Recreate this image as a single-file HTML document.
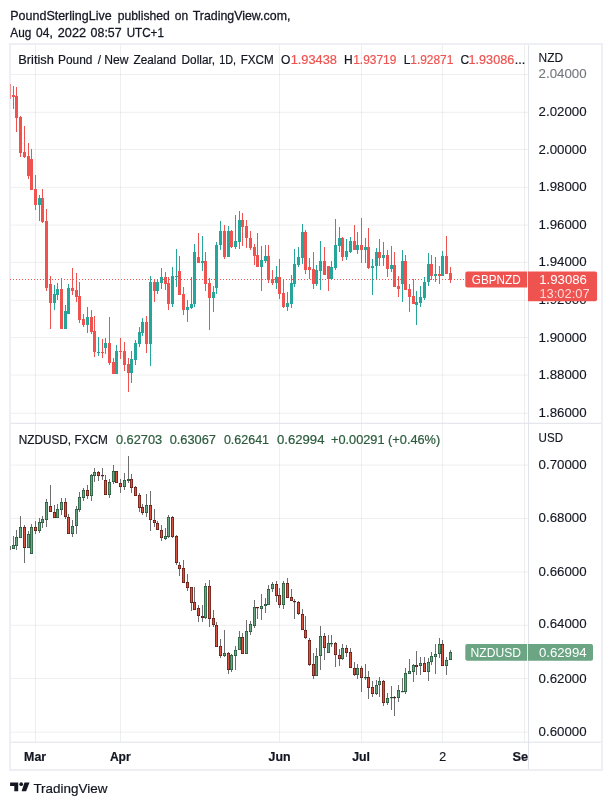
<!DOCTYPE html><html><head><meta charset="utf-8"><title>chart</title><style>
html,body{margin:0;padding:0;background:#fff;}svg{display:block;will-change:transform}text{font-family:"Liberation Sans",sans-serif;}.k text{stroke:#131722;stroke-width:0.28px;}.k2 text{stroke-width:0.2px;}.k3 text{stroke-width:0.12px;}
</style></head><body>
<svg width="612" height="805" viewBox="0 0 612 805">
<rect width="612" height="805" fill="#fff"/>
<g class="k" font-size="12.6" fill="#131722">
<text x="10.3" y="19.7" textLength="101.3" lengthAdjust="spacingAndGlyphs">PoundSterlingLive</text>
<text x="117.8" y="19.7" textLength="52.1" lengthAdjust="spacingAndGlyphs">published</text>
<text x="174.8" y="19.7" textLength="13.3" lengthAdjust="spacingAndGlyphs">on</text>
<text x="192.7" y="19.7" textLength="97.7" lengthAdjust="spacingAndGlyphs">TradingView.com,</text>
<text x="10.3" y="36.8" textLength="21.0" lengthAdjust="spacingAndGlyphs">Aug</text>
<text x="36.1" y="36.8" textLength="16.7" lengthAdjust="spacingAndGlyphs">04,</text>
<text x="57.8" y="36.8" textLength="28.3" lengthAdjust="spacingAndGlyphs">2022</text>
<text x="90.6" y="36.8" textLength="31.1" lengthAdjust="spacingAndGlyphs">08:57</text>
<text x="126.7" y="36.8" textLength="37.2" lengthAdjust="spacingAndGlyphs">UTC+1</text>
</g>
<g stroke="#2a2e39" stroke-opacity="0.08" stroke-width="1" fill="none">
<line x1="10" x2="528.6" y1="74.5" y2="74.5"/>
<line x1="10" x2="528.6" y1="112.3" y2="112.3"/>
<line x1="10" x2="528.6" y1="149.5" y2="149.5"/>
<line x1="10" x2="528.6" y1="187.4" y2="187.4"/>
<line x1="10" x2="528.6" y1="225.1" y2="225.1"/>
<line x1="10" x2="528.6" y1="262.4" y2="262.4"/>
<line x1="10" x2="528.6" y1="300.4" y2="300.4"/>
<line x1="10" x2="528.6" y1="337.5" y2="337.5"/>
<line x1="10" x2="528.6" y1="375.1" y2="375.1"/>
<line x1="10" x2="528.6" y1="413.3" y2="413.3"/>
<line x1="10" x2="528.6" y1="465.1" y2="465.1"/>
<line x1="10" x2="528.6" y1="518.5" y2="518.5"/>
<line x1="10" x2="528.6" y1="572.1" y2="572.1"/>
<line x1="10" x2="528.6" y1="625.3" y2="625.3"/>
<line x1="10" x2="528.6" y1="678.5" y2="678.5"/>
<line x1="10" x2="528.6" y1="732.2" y2="732.2"/>
<line x1="35.5" x2="35.5" y1="44" y2="742.2"/>
<line x1="120.5" x2="120.5" y1="44" y2="742.2"/>
<line x1="279.5" x2="279.5" y1="44" y2="742.2"/>
<line x1="361.5" x2="361.5" y1="44" y2="742.2"/>
<line x1="442.5" x2="442.5" y1="44" y2="742.2"/>
<line x1="524.5" x2="524.5" y1="44" y2="742.2"/>
</g>
<path fill="#edeff5" fill-rule="evenodd" d="M9 43H603V771H9Z M11 45V769H601V45Z"/>
<g stroke="#dfe2e9" stroke-width="1" fill="none">
<line x1="528.6" x2="528.6" y1="45" y2="769"/>
<line x1="11" x2="601" y1="423.3" y2="423.3"/>
<line x1="11" x2="601" y1="742.2" y2="742.2"/>
</g>
<clipPath id="c1"><rect x="10" y="44" width="518.6" height="379.3"/></clipPath>
<clipPath id="c2"><rect x="10" y="423.3" width="518.6" height="318.90000000000003"/></clipPath>
<g clip-path="url(#c1)">
<line x1="10" x2="528.6" y1="279.5" y2="279.5" stroke="#ef5350" stroke-width="1" stroke-dasharray="1 2"/>
<rect x="10.15" y="84" width="0.6" height="15.0" fill="#ef5350"/>
<rect x="13.00" y="86" width="1" height="23.0" fill="#ef5350"/>
<rect x="12.00" y="95" width="3" height="2.0" fill="#ef5350"/>
<rect x="16.00" y="87" width="1" height="45.0" fill="#ef5350"/>
<rect x="15.00" y="96" width="3" height="22.0" fill="#ef5350"/>
<rect x="20.00" y="116" width="1" height="41.0" fill="#ef5350"/>
<rect x="19.00" y="117" width="3" height="36.0" fill="#ef5350"/>
<rect x="24.00" y="126" width="1" height="32.0" fill="#ef5350"/>
<rect x="23.00" y="152" width="3" height="5.0" fill="#ef5350"/>
<rect x="28.00" y="143" width="1" height="36.0" fill="#ef5350"/>
<rect x="27.00" y="156" width="3" height="20.0" fill="#ef5350"/>
<rect x="31.00" y="149" width="1" height="41.0" fill="#ef5350"/>
<rect x="30.00" y="159" width="3" height="31.0" fill="#ef5350"/>
<rect x="35.00" y="175" width="1" height="35.0" fill="#ef5350"/>
<rect x="34.00" y="189" width="3" height="16.0" fill="#ef5350"/>
<rect x="39.00" y="195" width="1" height="26.0" fill="#26a69a"/>
<rect x="38.00" y="198" width="3" height="7.0" fill="#26a69a"/>
<rect x="42.00" y="189" width="1" height="34.0" fill="#ef5350"/>
<rect x="41.00" y="198" width="3" height="24.0" fill="#ef5350"/>
<rect x="46.00" y="209" width="1" height="82.0" fill="#ef5350"/>
<rect x="45.00" y="221" width="3" height="67.0" fill="#ef5350"/>
<rect x="50.00" y="276" width="1" height="53.0" fill="#ef5350"/>
<rect x="49.00" y="284" width="3" height="19.0" fill="#ef5350"/>
<rect x="54.00" y="285" width="1" height="25.0" fill="#26a69a"/>
<rect x="53.00" y="294" width="3" height="9.0" fill="#26a69a"/>
<rect x="57.00" y="283" width="1" height="17.0" fill="#26a69a"/>
<rect x="56.00" y="289" width="3" height="6.0" fill="#26a69a"/>
<rect x="61.00" y="278" width="1" height="51.0" fill="#ef5350"/>
<rect x="60.00" y="289" width="3" height="40.0" fill="#ef5350"/>
<rect x="65.00" y="305" width="1" height="24.0" fill="#26a69a"/>
<rect x="64.00" y="311" width="3" height="18.0" fill="#26a69a"/>
<rect x="68.00" y="284" width="1" height="30.0" fill="#26a69a"/>
<rect x="67.00" y="288" width="3" height="26.0" fill="#26a69a"/>
<rect x="72.00" y="268" width="1" height="27.0" fill="#ef5350"/>
<rect x="71.00" y="288" width="3" height="3.0" fill="#ef5350"/>
<rect x="76.00" y="273" width="1" height="29.0" fill="#ef5350"/>
<rect x="75.00" y="290" width="3" height="7.0" fill="#ef5350"/>
<rect x="79.00" y="282" width="1" height="41.0" fill="#ef5350"/>
<rect x="78.00" y="296" width="3" height="24.0" fill="#ef5350"/>
<rect x="83.00" y="314" width="1" height="13.0" fill="#ef5350"/>
<rect x="82.00" y="319" width="3" height="6.0" fill="#ef5350"/>
<rect x="87.00" y="307" width="1" height="26.0" fill="#26a69a"/>
<rect x="86.00" y="317" width="3" height="8.0" fill="#26a69a"/>
<rect x="91.00" y="310" width="1" height="24.0" fill="#ef5350"/>
<rect x="90.00" y="317" width="3" height="15.0" fill="#ef5350"/>
<rect x="94.00" y="316" width="1" height="41.0" fill="#ef5350"/>
<rect x="93.00" y="331" width="3" height="21.0" fill="#ef5350"/>
<rect x="98.00" y="337" width="1" height="19.0" fill="#26a69a"/>
<rect x="97.00" y="352" width="3" height="1.0" fill="#26a69a"/>
<rect x="102.00" y="339" width="1" height="19.0" fill="#ef5350"/>
<rect x="101.00" y="352" width="3" height="1.0" fill="#ef5350"/>
<rect x="105.00" y="338" width="1" height="16.0" fill="#26a69a"/>
<rect x="104.00" y="343" width="3" height="5.0" fill="#26a69a"/>
<rect x="109.00" y="317" width="1" height="48.0" fill="#ef5350"/>
<rect x="108.00" y="343" width="3" height="20.0" fill="#ef5350"/>
<rect x="113.00" y="358" width="1" height="16.0" fill="#ef5350"/>
<rect x="112.00" y="362" width="3" height="12.0" fill="#ef5350"/>
<rect x="116.00" y="345" width="1" height="29.0" fill="#26a69a"/>
<rect x="115.00" y="351" width="3" height="23.0" fill="#26a69a"/>
<rect x="120.00" y="338" width="1" height="21.0" fill="#ef5350"/>
<rect x="119.00" y="351" width="3" height="1.0" fill="#ef5350"/>
<rect x="124.00" y="342" width="1" height="29.0" fill="#ef5350"/>
<rect x="123.00" y="351" width="3" height="14.0" fill="#ef5350"/>
<rect x="128.00" y="358" width="1" height="34.0" fill="#ef5350"/>
<rect x="127.00" y="364" width="3" height="9.0" fill="#ef5350"/>
<rect x="131.00" y="351" width="1" height="32.0" fill="#26a69a"/>
<rect x="130.00" y="359" width="3" height="14.0" fill="#26a69a"/>
<rect x="135.00" y="340" width="1" height="25.0" fill="#26a69a"/>
<rect x="134.00" y="343" width="3" height="17.0" fill="#26a69a"/>
<rect x="139.00" y="327" width="1" height="20.0" fill="#26a69a"/>
<rect x="138.00" y="332" width="3" height="12.0" fill="#26a69a"/>
<rect x="142.00" y="318" width="1" height="18.0" fill="#26a69a"/>
<rect x="141.00" y="322" width="3" height="11.0" fill="#26a69a"/>
<rect x="146.00" y="316" width="1" height="37.0" fill="#ef5350"/>
<rect x="145.00" y="322" width="3" height="22.0" fill="#ef5350"/>
<rect x="150.00" y="276" width="1" height="90.0" fill="#26a69a"/>
<rect x="149.00" y="282" width="3" height="62.0" fill="#26a69a"/>
<rect x="154.00" y="279" width="1" height="23.0" fill="#ef5350"/>
<rect x="153.00" y="282" width="3" height="9.0" fill="#ef5350"/>
<rect x="157.00" y="279" width="1" height="15.0" fill="#26a69a"/>
<rect x="156.00" y="282" width="3" height="9.0" fill="#26a69a"/>
<rect x="161.00" y="268" width="1" height="21.0" fill="#26a69a"/>
<rect x="160.00" y="277" width="3" height="6.0" fill="#26a69a"/>
<rect x="165.00" y="272" width="1" height="18.0" fill="#ef5350"/>
<rect x="164.00" y="277" width="3" height="7.0" fill="#ef5350"/>
<rect x="168.00" y="277" width="1" height="33.0" fill="#ef5350"/>
<rect x="167.00" y="283" width="3" height="21.0" fill="#ef5350"/>
<rect x="172.00" y="267" width="1" height="40.0" fill="#26a69a"/>
<rect x="171.00" y="276" width="3" height="28.0" fill="#26a69a"/>
<rect x="176.00" y="249" width="1" height="38.0" fill="#26a69a"/>
<rect x="175.00" y="276" width="3" height="1.0" fill="#26a69a"/>
<rect x="179.00" y="256" width="1" height="39.0" fill="#ef5350"/>
<rect x="178.00" y="271" width="3" height="24.0" fill="#ef5350"/>
<rect x="183.00" y="287" width="1" height="28.0" fill="#ef5350"/>
<rect x="182.00" y="294" width="3" height="16.0" fill="#ef5350"/>
<rect x="187.00" y="300" width="1" height="22.0" fill="#26a69a"/>
<rect x="186.00" y="307" width="3" height="3.0" fill="#26a69a"/>
<rect x="191.00" y="277" width="1" height="32.0" fill="#26a69a"/>
<rect x="190.00" y="304" width="3" height="4.0" fill="#26a69a"/>
<rect x="194.00" y="244" width="1" height="63.0" fill="#26a69a"/>
<rect x="193.00" y="252" width="3" height="52.0" fill="#26a69a"/>
<rect x="198.00" y="233" width="1" height="30.0" fill="#ef5350"/>
<rect x="197.00" y="257" width="3" height="6.0" fill="#ef5350"/>
<rect x="202.00" y="236" width="1" height="35.0" fill="#26a69a"/>
<rect x="201.00" y="261" width="3" height="2.0" fill="#26a69a"/>
<rect x="205.00" y="252" width="1" height="39.0" fill="#ef5350"/>
<rect x="204.00" y="261" width="3" height="23.0" fill="#ef5350"/>
<rect x="209.00" y="278" width="1" height="52.0" fill="#ef5350"/>
<rect x="208.00" y="283" width="3" height="15.0" fill="#ef5350"/>
<rect x="213.00" y="286" width="1" height="26.0" fill="#26a69a"/>
<rect x="212.00" y="292" width="3" height="6.0" fill="#26a69a"/>
<rect x="216.00" y="242" width="1" height="52.0" fill="#26a69a"/>
<rect x="215.00" y="245" width="3" height="43.0" fill="#26a69a"/>
<rect x="220.00" y="221" width="1" height="29.0" fill="#26a69a"/>
<rect x="219.00" y="231" width="3" height="14.0" fill="#26a69a"/>
<rect x="224.00" y="225" width="1" height="34.0" fill="#ef5350"/>
<rect x="223.00" y="231" width="3" height="26.0" fill="#ef5350"/>
<rect x="228.00" y="226" width="1" height="31.0" fill="#26a69a"/>
<rect x="227.00" y="231" width="3" height="26.0" fill="#26a69a"/>
<rect x="231.00" y="230" width="1" height="18.0" fill="#ef5350"/>
<rect x="230.00" y="231" width="3" height="16.0" fill="#ef5350"/>
<rect x="235.00" y="215" width="1" height="34.0" fill="#26a69a"/>
<rect x="234.00" y="241" width="3" height="6.0" fill="#26a69a"/>
<rect x="239.00" y="211" width="1" height="38.0" fill="#26a69a"/>
<rect x="238.00" y="220" width="3" height="22.0" fill="#26a69a"/>
<rect x="242.00" y="213" width="1" height="33.0" fill="#ef5350"/>
<rect x="241.00" y="220" width="3" height="7.0" fill="#ef5350"/>
<rect x="246.00" y="220" width="1" height="28.0" fill="#ef5350"/>
<rect x="245.00" y="226" width="3" height="12.0" fill="#ef5350"/>
<rect x="250.00" y="231" width="1" height="19.0" fill="#ef5350"/>
<rect x="249.00" y="238" width="3" height="10.0" fill="#ef5350"/>
<rect x="254.00" y="244" width="1" height="21.0" fill="#ef5350"/>
<rect x="253.00" y="247" width="3" height="9.0" fill="#ef5350"/>
<rect x="257.00" y="233" width="1" height="34.0" fill="#ef5350"/>
<rect x="256.00" y="255" width="3" height="12.0" fill="#ef5350"/>
<rect x="261.00" y="246" width="1" height="45.0" fill="#26a69a"/>
<rect x="260.00" y="260" width="3" height="7.0" fill="#26a69a"/>
<rect x="265.00" y="245" width="1" height="18.0" fill="#26a69a"/>
<rect x="264.00" y="256" width="3" height="5.0" fill="#26a69a"/>
<rect x="268.00" y="245" width="1" height="38.0" fill="#ef5350"/>
<rect x="267.00" y="256" width="3" height="24.0" fill="#ef5350"/>
<rect x="272.00" y="270" width="1" height="15.0" fill="#ef5350"/>
<rect x="271.00" y="279" width="3" height="4.0" fill="#ef5350"/>
<rect x="276.00" y="266" width="1" height="23.0" fill="#26a69a"/>
<rect x="275.00" y="277" width="3" height="6.0" fill="#26a69a"/>
<rect x="279.00" y="259" width="1" height="40.0" fill="#ef5350"/>
<rect x="278.00" y="277" width="3" height="17.0" fill="#ef5350"/>
<rect x="283.00" y="279" width="1" height="29.0" fill="#ef5350"/>
<rect x="282.00" y="293" width="3" height="14.0" fill="#ef5350"/>
<rect x="287.00" y="292" width="1" height="19.0" fill="#26a69a"/>
<rect x="286.00" y="303" width="3" height="4.0" fill="#26a69a"/>
<rect x="291.00" y="275" width="1" height="33.0" fill="#26a69a"/>
<rect x="290.00" y="283" width="3" height="21.0" fill="#26a69a"/>
<rect x="294.00" y="249" width="1" height="38.0" fill="#26a69a"/>
<rect x="293.00" y="264" width="3" height="20.0" fill="#26a69a"/>
<rect x="298.00" y="247" width="1" height="20.0" fill="#26a69a"/>
<rect x="297.00" y="257" width="3" height="8.0" fill="#26a69a"/>
<rect x="302.00" y="224" width="1" height="40.0" fill="#26a69a"/>
<rect x="301.00" y="232" width="3" height="26.0" fill="#26a69a"/>
<rect x="305.00" y="230" width="1" height="44.0" fill="#ef5350"/>
<rect x="304.00" y="232" width="3" height="38.0" fill="#ef5350"/>
<rect x="309.00" y="258" width="1" height="21.0" fill="#ef5350"/>
<rect x="308.00" y="267" width="3" height="3.0" fill="#ef5350"/>
<rect x="313.00" y="252" width="1" height="37.0" fill="#ef5350"/>
<rect x="312.00" y="269" width="3" height="15.0" fill="#ef5350"/>
<rect x="316.00" y="265" width="1" height="21.0" fill="#26a69a"/>
<rect x="315.00" y="270" width="3" height="14.0" fill="#26a69a"/>
<rect x="320.00" y="241" width="1" height="49.0" fill="#26a69a"/>
<rect x="319.00" y="261" width="3" height="10.0" fill="#26a69a"/>
<rect x="324.00" y="247" width="1" height="28.0" fill="#ef5350"/>
<rect x="323.00" y="261" width="3" height="14.0" fill="#ef5350"/>
<rect x="328.00" y="266" width="1" height="25.0" fill="#ef5350"/>
<rect x="327.00" y="266" width="3" height="13.0" fill="#ef5350"/>
<rect x="331.00" y="261" width="1" height="18.0" fill="#26a69a"/>
<rect x="330.00" y="267" width="3" height="12.0" fill="#26a69a"/>
<rect x="335.00" y="219" width="1" height="51.0" fill="#26a69a"/>
<rect x="334.00" y="245" width="3" height="23.0" fill="#26a69a"/>
<rect x="339.00" y="227" width="1" height="25.0" fill="#26a69a"/>
<rect x="338.00" y="238" width="3" height="8.0" fill="#26a69a"/>
<rect x="342.00" y="237" width="1" height="24.0" fill="#ef5350"/>
<rect x="341.00" y="238" width="3" height="19.0" fill="#ef5350"/>
<rect x="346.00" y="239" width="1" height="21.0" fill="#26a69a"/>
<rect x="345.00" y="251" width="3" height="6.0" fill="#26a69a"/>
<rect x="350.00" y="237" width="1" height="16.0" fill="#26a69a"/>
<rect x="349.00" y="241" width="3" height="11.0" fill="#26a69a"/>
<rect x="354.00" y="225" width="1" height="25.0" fill="#ef5350"/>
<rect x="353.00" y="241" width="3" height="9.0" fill="#ef5350"/>
<rect x="357.00" y="232" width="1" height="22.0" fill="#26a69a"/>
<rect x="356.00" y="245" width="3" height="5.0" fill="#26a69a"/>
<rect x="361.00" y="218" width="1" height="45.0" fill="#ef5350"/>
<rect x="360.00" y="245" width="3" height="5.0" fill="#ef5350"/>
<rect x="365.00" y="238" width="1" height="25.0" fill="#26a69a"/>
<rect x="364.00" y="247" width="3" height="3.0" fill="#26a69a"/>
<rect x="368.00" y="228" width="1" height="41.0" fill="#ef5350"/>
<rect x="367.00" y="247" width="3" height="21.0" fill="#ef5350"/>
<rect x="372.00" y="259" width="1" height="36.0" fill="#26a69a"/>
<rect x="371.00" y="266" width="3" height="2.0" fill="#26a69a"/>
<rect x="376.00" y="248" width="1" height="31.0" fill="#26a69a"/>
<rect x="375.00" y="252" width="3" height="14.0" fill="#26a69a"/>
<rect x="379.00" y="239" width="1" height="27.0" fill="#ef5350"/>
<rect x="378.00" y="252" width="3" height="6.0" fill="#ef5350"/>
<rect x="383.00" y="242" width="1" height="24.0" fill="#26a69a"/>
<rect x="382.00" y="255" width="3" height="3.0" fill="#26a69a"/>
<rect x="387.00" y="250" width="1" height="27.0" fill="#ef5350"/>
<rect x="386.00" y="255" width="3" height="14.0" fill="#ef5350"/>
<rect x="391.00" y="246" width="1" height="26.0" fill="#26a69a"/>
<rect x="390.00" y="265" width="3" height="4.0" fill="#26a69a"/>
<rect x="394.00" y="252" width="1" height="35.0" fill="#ef5350"/>
<rect x="393.00" y="265" width="3" height="22.0" fill="#ef5350"/>
<rect x="398.00" y="276" width="1" height="21.0" fill="#ef5350"/>
<rect x="397.00" y="286" width="3" height="3.0" fill="#ef5350"/>
<rect x="402.00" y="250" width="1" height="52.0" fill="#26a69a"/>
<rect x="401.00" y="261" width="3" height="23.0" fill="#26a69a"/>
<rect x="405.00" y="255" width="1" height="35.0" fill="#ef5350"/>
<rect x="404.00" y="261" width="3" height="29.0" fill="#ef5350"/>
<rect x="409.00" y="284" width="1" height="28.0" fill="#ef5350"/>
<rect x="408.00" y="289" width="3" height="8.0" fill="#ef5350"/>
<rect x="413.00" y="279" width="1" height="25.0" fill="#ef5350"/>
<rect x="412.00" y="296" width="3" height="8.0" fill="#ef5350"/>
<rect x="416.00" y="291" width="1" height="34.0" fill="#26a69a"/>
<rect x="415.00" y="302" width="3" height="3.0" fill="#26a69a"/>
<rect x="420.00" y="286" width="1" height="21.0" fill="#26a69a"/>
<rect x="419.00" y="297" width="3" height="6.0" fill="#26a69a"/>
<rect x="424.00" y="277" width="1" height="23.0" fill="#26a69a"/>
<rect x="423.00" y="282" width="3" height="16.0" fill="#26a69a"/>
<rect x="428.00" y="253" width="1" height="33.0" fill="#26a69a"/>
<rect x="427.00" y="264" width="3" height="18.0" fill="#26a69a"/>
<rect x="431.00" y="255" width="1" height="25.0" fill="#ef5350"/>
<rect x="430.00" y="264" width="3" height="12.0" fill="#ef5350"/>
<rect x="435.00" y="257" width="1" height="25.0" fill="#26a69a"/>
<rect x="434.00" y="274" width="3" height="2.0" fill="#26a69a"/>
<rect x="439.00" y="266" width="1" height="18.0" fill="#ef5350"/>
<rect x="438.00" y="274" width="3" height="2.0" fill="#ef5350"/>
<rect x="442.00" y="251" width="1" height="25.0" fill="#26a69a"/>
<rect x="441.00" y="256" width="3" height="20.0" fill="#26a69a"/>
<rect x="446.00" y="236" width="1" height="38.0" fill="#ef5350"/>
<rect x="445.00" y="256" width="3" height="18.0" fill="#ef5350"/>
<rect x="450.00" y="267" width="1" height="16.0" fill="#ef5350"/>
<rect x="449.00" y="273" width="3" height="7.0" fill="#ef5350"/>
</g>
<g clip-path="url(#c2)">
<rect x="10.00" y="546" width="1" height="4.0" fill="#6e6e70"/>
<rect x="13.00" y="536" width="1" height="13.0" fill="#6e6e70"/>
<rect x="12.00" y="545" width="3" height="4.0" fill="#225437"/>
<rect x="12.70" y="545.70" width="1.6" height="2.6" fill="#6ba583"/>
<rect x="16.00" y="530" width="1" height="20.0" fill="#6e6e70"/>
<rect x="15.00" y="537" width="3" height="9.0" fill="#225437"/>
<rect x="15.70" y="537.70" width="1.6" height="7.6" fill="#6ba583"/>
<rect x="20.00" y="516" width="1" height="22.0" fill="#6e6e70"/>
<rect x="19.00" y="527" width="3" height="11.0" fill="#225437"/>
<rect x="19.70" y="527.70" width="1.6" height="9.6" fill="#6ba583"/>
<rect x="24.00" y="525" width="1" height="38.0" fill="#6e6e70"/>
<rect x="23.00" y="527" width="3" height="21.0" fill="#5b1a13"/>
<rect x="23.70" y="527.70" width="1.6" height="19.6" fill="#d75442"/>
<rect x="28.00" y="531" width="1" height="17.0" fill="#6e6e70"/>
<rect x="27.00" y="534" width="3" height="14.0" fill="#225437"/>
<rect x="27.70" y="534.70" width="1.6" height="12.6" fill="#6ba583"/>
<rect x="31.00" y="524" width="1" height="30.0" fill="#6e6e70"/>
<rect x="30.00" y="527" width="3" height="27.0" fill="#225437"/>
<rect x="30.70" y="527.70" width="1.6" height="25.6" fill="#6ba583"/>
<rect x="35.00" y="521" width="1" height="13.0" fill="#6e6e70"/>
<rect x="34.00" y="527" width="3" height="4.0" fill="#5b1a13"/>
<rect x="34.70" y="527.70" width="1.6" height="2.6" fill="#d75442"/>
<rect x="39.00" y="518" width="1" height="15.0" fill="#6e6e70"/>
<rect x="38.00" y="522" width="3" height="9.0" fill="#225437"/>
<rect x="38.70" y="522.70" width="1.6" height="7.6" fill="#6ba583"/>
<rect x="42.00" y="516" width="1" height="12.0" fill="#6e6e70"/>
<rect x="41.00" y="519" width="3" height="4.0" fill="#225437"/>
<rect x="41.70" y="519.70" width="1.6" height="2.6" fill="#6ba583"/>
<rect x="46.00" y="499" width="1" height="28.0" fill="#6e6e70"/>
<rect x="45.00" y="502" width="3" height="18.0" fill="#225437"/>
<rect x="45.70" y="502.70" width="1.6" height="16.6" fill="#6ba583"/>
<rect x="50.00" y="485" width="1" height="27.0" fill="#6e6e70"/>
<rect x="49.00" y="506" width="3" height="6.0" fill="#5b1a13"/>
<rect x="49.70" y="506.70" width="1.6" height="4.6" fill="#d75442"/>
<rect x="54.00" y="505" width="1" height="13.0" fill="#6e6e70"/>
<rect x="53.00" y="512" width="3" height="6.0" fill="#5b1a13"/>
<rect x="53.70" y="512.70" width="1.6" height="4.6" fill="#d75442"/>
<rect x="57.00" y="504" width="1" height="14.0" fill="#6e6e70"/>
<rect x="56.00" y="509" width="3" height="9.0" fill="#225437"/>
<rect x="56.70" y="509.70" width="1.6" height="7.6" fill="#6ba583"/>
<rect x="61.00" y="498" width="1" height="17.0" fill="#6e6e70"/>
<rect x="60.00" y="502" width="3" height="8.0" fill="#225437"/>
<rect x="60.70" y="502.70" width="1.6" height="6.6" fill="#6ba583"/>
<rect x="65.00" y="498" width="1" height="21.0" fill="#6e6e70"/>
<rect x="64.00" y="502" width="3" height="15.0" fill="#5b1a13"/>
<rect x="64.70" y="502.70" width="1.6" height="13.6" fill="#d75442"/>
<rect x="68.00" y="514" width="1" height="20.0" fill="#6e6e70"/>
<rect x="67.00" y="517" width="3" height="17.0" fill="#5b1a13"/>
<rect x="67.70" y="517.70" width="1.6" height="15.6" fill="#d75442"/>
<rect x="72.00" y="520" width="1" height="17.0" fill="#6e6e70"/>
<rect x="71.00" y="526" width="3" height="8.0" fill="#225437"/>
<rect x="71.70" y="526.70" width="1.6" height="6.6" fill="#6ba583"/>
<rect x="76.00" y="506" width="1" height="28.0" fill="#6e6e70"/>
<rect x="75.00" y="509" width="3" height="17.0" fill="#225437"/>
<rect x="75.70" y="509.70" width="1.6" height="15.6" fill="#6ba583"/>
<rect x="79.00" y="492" width="1" height="20.0" fill="#6e6e70"/>
<rect x="78.00" y="497" width="3" height="13.0" fill="#225437"/>
<rect x="78.70" y="497.70" width="1.6" height="11.6" fill="#6ba583"/>
<rect x="83.00" y="488" width="1" height="13.0" fill="#6e6e70"/>
<rect x="82.00" y="490" width="3" height="8.0" fill="#225437"/>
<rect x="82.70" y="490.70" width="1.6" height="6.6" fill="#6ba583"/>
<rect x="87.00" y="485" width="1" height="14.0" fill="#6e6e70"/>
<rect x="86.00" y="490" width="3" height="6.0" fill="#5b1a13"/>
<rect x="86.70" y="490.70" width="1.6" height="4.6" fill="#d75442"/>
<rect x="91.00" y="474" width="1" height="27.0" fill="#6e6e70"/>
<rect x="90.00" y="475" width="3" height="21.0" fill="#225437"/>
<rect x="90.70" y="475.70" width="1.6" height="19.6" fill="#6ba583"/>
<rect x="94.00" y="468" width="1" height="14.0" fill="#6e6e70"/>
<rect x="93.00" y="472" width="3" height="4.0" fill="#225437"/>
<rect x="93.70" y="472.70" width="1.6" height="2.6" fill="#6ba583"/>
<rect x="98.00" y="471" width="1" height="10.0" fill="#6e6e70"/>
<rect x="97.00" y="472" width="3" height="4.0" fill="#5b1a13"/>
<rect x="97.70" y="472.70" width="1.6" height="2.6" fill="#d75442"/>
<rect x="102.00" y="468" width="1" height="12.0" fill="#6e6e70"/>
<rect x="101.00" y="475" width="3" height="1.2" fill="#5b1a13"/>
<rect x="105.00" y="475" width="1" height="20.0" fill="#6e6e70"/>
<rect x="104.00" y="480" width="3" height="15.0" fill="#5b1a13"/>
<rect x="104.70" y="480.70" width="1.6" height="13.6" fill="#d75442"/>
<rect x="109.00" y="479" width="1" height="19.0" fill="#6e6e70"/>
<rect x="108.00" y="482" width="3" height="13.0" fill="#225437"/>
<rect x="108.70" y="482.70" width="1.6" height="11.6" fill="#6ba583"/>
<rect x="113.00" y="465" width="1" height="19.0" fill="#6e6e70"/>
<rect x="112.00" y="471" width="3" height="11.0" fill="#225437"/>
<rect x="112.70" y="471.70" width="1.6" height="9.6" fill="#6ba583"/>
<rect x="116.00" y="471" width="1" height="12.0" fill="#6e6e70"/>
<rect x="115.00" y="471" width="3" height="12.0" fill="#5b1a13"/>
<rect x="115.70" y="471.70" width="1.6" height="10.6" fill="#d75442"/>
<rect x="120.00" y="479" width="1" height="14.0" fill="#6e6e70"/>
<rect x="119.00" y="483" width="3" height="4.0" fill="#5b1a13"/>
<rect x="119.70" y="483.70" width="1.6" height="2.6" fill="#d75442"/>
<rect x="124.00" y="473" width="1" height="17.0" fill="#6e6e70"/>
<rect x="123.00" y="480" width="3" height="7.0" fill="#225437"/>
<rect x="123.70" y="480.70" width="1.6" height="5.6" fill="#6ba583"/>
<rect x="128.00" y="456" width="1" height="27.0" fill="#6e6e70"/>
<rect x="127.00" y="479" width="3" height="2.0" fill="#225437"/>
<rect x="127.70" y="479.70" width="1.6" height="0.6" fill="#6ba583"/>
<rect x="131.00" y="474" width="1" height="19.0" fill="#6e6e70"/>
<rect x="130.00" y="479" width="3" height="9.0" fill="#5b1a13"/>
<rect x="130.70" y="479.70" width="1.6" height="7.6" fill="#d75442"/>
<rect x="135.00" y="486" width="1" height="10.0" fill="#6e6e70"/>
<rect x="134.00" y="487" width="3" height="9.0" fill="#5b1a13"/>
<rect x="134.70" y="487.70" width="1.6" height="7.6" fill="#d75442"/>
<rect x="139.00" y="493" width="1" height="19.0" fill="#6e6e70"/>
<rect x="138.00" y="495" width="3" height="13.0" fill="#5b1a13"/>
<rect x="138.70" y="495.70" width="1.6" height="11.6" fill="#d75442"/>
<rect x="142.00" y="504" width="1" height="11.0" fill="#6e6e70"/>
<rect x="141.00" y="507" width="3" height="6.0" fill="#5b1a13"/>
<rect x="141.70" y="507.70" width="1.6" height="4.6" fill="#d75442"/>
<rect x="146.00" y="494" width="1" height="23.0" fill="#6e6e70"/>
<rect x="145.00" y="505" width="3" height="8.0" fill="#225437"/>
<rect x="145.70" y="505.70" width="1.6" height="6.6" fill="#6ba583"/>
<rect x="150.00" y="491" width="1" height="40.0" fill="#6e6e70"/>
<rect x="149.00" y="505" width="3" height="15.0" fill="#5b1a13"/>
<rect x="149.70" y="505.70" width="1.6" height="13.6" fill="#d75442"/>
<rect x="154.00" y="509" width="1" height="18.0" fill="#6e6e70"/>
<rect x="153.00" y="520" width="3" height="3.0" fill="#5b1a13"/>
<rect x="153.70" y="520.70" width="1.6" height="1.6" fill="#d75442"/>
<rect x="157.00" y="521" width="1" height="9.0" fill="#6e6e70"/>
<rect x="156.00" y="523" width="3" height="7.0" fill="#5b1a13"/>
<rect x="156.70" y="523.70" width="1.6" height="5.6" fill="#d75442"/>
<rect x="161.00" y="525" width="1" height="16.0" fill="#6e6e70"/>
<rect x="160.00" y="530" width="3" height="8.0" fill="#5b1a13"/>
<rect x="160.70" y="530.70" width="1.6" height="6.6" fill="#d75442"/>
<rect x="165.00" y="528" width="1" height="12.0" fill="#6e6e70"/>
<rect x="164.00" y="536" width="3" height="3.0" fill="#225437"/>
<rect x="164.70" y="536.70" width="1.6" height="1.6" fill="#6ba583"/>
<rect x="168.00" y="515" width="1" height="23.0" fill="#6e6e70"/>
<rect x="167.00" y="517" width="3" height="20.0" fill="#225437"/>
<rect x="167.70" y="517.70" width="1.6" height="18.6" fill="#6ba583"/>
<rect x="172.00" y="516" width="1" height="22.0" fill="#6e6e70"/>
<rect x="171.00" y="517" width="3" height="20.0" fill="#5b1a13"/>
<rect x="171.70" y="517.70" width="1.6" height="18.6" fill="#d75442"/>
<rect x="176.00" y="535" width="1" height="30.0" fill="#6e6e70"/>
<rect x="175.00" y="536" width="3" height="27.0" fill="#5b1a13"/>
<rect x="175.70" y="536.70" width="1.6" height="25.6" fill="#d75442"/>
<rect x="179.00" y="562" width="1" height="14.0" fill="#6e6e70"/>
<rect x="178.00" y="565" width="3" height="4.0" fill="#5b1a13"/>
<rect x="178.70" y="565.70" width="1.6" height="2.6" fill="#d75442"/>
<rect x="183.00" y="560" width="1" height="23.0" fill="#6e6e70"/>
<rect x="182.00" y="568" width="3" height="15.0" fill="#5b1a13"/>
<rect x="182.70" y="568.70" width="1.6" height="13.6" fill="#d75442"/>
<rect x="187.00" y="574" width="1" height="17.0" fill="#6e6e70"/>
<rect x="186.00" y="582" width="3" height="6.0" fill="#5b1a13"/>
<rect x="186.70" y="582.70" width="1.6" height="4.6" fill="#d75442"/>
<rect x="191.00" y="587" width="1" height="24.0" fill="#6e6e70"/>
<rect x="190.00" y="587" width="3" height="16.0" fill="#5b1a13"/>
<rect x="190.70" y="587.70" width="1.6" height="14.6" fill="#d75442"/>
<rect x="194.00" y="587" width="1" height="23.0" fill="#6e6e70"/>
<rect x="193.00" y="602" width="3" height="8.0" fill="#5b1a13"/>
<rect x="193.70" y="602.70" width="1.6" height="6.6" fill="#d75442"/>
<rect x="198.00" y="605" width="1" height="17.0" fill="#6e6e70"/>
<rect x="197.00" y="608" width="3" height="8.0" fill="#5b1a13"/>
<rect x="197.70" y="608.70" width="1.6" height="6.6" fill="#d75442"/>
<rect x="202.00" y="605" width="1" height="17.0" fill="#6e6e70"/>
<rect x="201.00" y="616" width="3" height="2.0" fill="#5b1a13"/>
<rect x="201.70" y="616.70" width="1.6" height="0.6" fill="#d75442"/>
<rect x="205.00" y="583" width="1" height="36.0" fill="#6e6e70"/>
<rect x="204.00" y="586" width="3" height="32.0" fill="#225437"/>
<rect x="204.70" y="586.70" width="1.6" height="30.6" fill="#6ba583"/>
<rect x="209.00" y="580" width="1" height="47.0" fill="#6e6e70"/>
<rect x="208.00" y="586" width="3" height="33.0" fill="#5b1a13"/>
<rect x="208.70" y="586.70" width="1.6" height="31.6" fill="#d75442"/>
<rect x="213.00" y="610" width="1" height="17.0" fill="#6e6e70"/>
<rect x="212.00" y="618" width="3" height="7.0" fill="#5b1a13"/>
<rect x="212.70" y="618.70" width="1.6" height="5.6" fill="#d75442"/>
<rect x="216.00" y="622" width="1" height="25.0" fill="#6e6e70"/>
<rect x="215.00" y="625" width="3" height="22.0" fill="#5b1a13"/>
<rect x="215.70" y="625.70" width="1.6" height="20.6" fill="#d75442"/>
<rect x="220.00" y="639" width="1" height="19.0" fill="#6e6e70"/>
<rect x="219.00" y="646" width="3" height="10.0" fill="#5b1a13"/>
<rect x="219.70" y="646.70" width="1.6" height="8.6" fill="#d75442"/>
<rect x="224.00" y="630" width="1" height="27.0" fill="#6e6e70"/>
<rect x="223.00" y="653" width="3" height="3.0" fill="#225437"/>
<rect x="223.70" y="653.70" width="1.6" height="1.6" fill="#6ba583"/>
<rect x="228.00" y="652" width="1" height="22.0" fill="#6e6e70"/>
<rect x="227.00" y="653" width="3" height="17.0" fill="#5b1a13"/>
<rect x="227.70" y="653.70" width="1.6" height="15.6" fill="#d75442"/>
<rect x="231.00" y="654" width="1" height="18.0" fill="#6e6e70"/>
<rect x="230.00" y="655" width="3" height="15.0" fill="#225437"/>
<rect x="230.70" y="655.70" width="1.6" height="13.6" fill="#6ba583"/>
<rect x="235.00" y="646" width="1" height="24.0" fill="#6e6e70"/>
<rect x="234.00" y="650" width="3" height="6.0" fill="#225437"/>
<rect x="234.70" y="650.70" width="1.6" height="4.6" fill="#6ba583"/>
<rect x="239.00" y="631" width="1" height="19.0" fill="#6e6e70"/>
<rect x="238.00" y="637" width="3" height="13.0" fill="#225437"/>
<rect x="238.70" y="637.70" width="1.6" height="11.6" fill="#6ba583"/>
<rect x="242.00" y="633" width="1" height="21.0" fill="#6e6e70"/>
<rect x="241.00" y="637" width="3" height="17.0" fill="#5b1a13"/>
<rect x="241.70" y="637.70" width="1.6" height="15.6" fill="#d75442"/>
<rect x="246.00" y="620" width="1" height="34.0" fill="#6e6e70"/>
<rect x="245.00" y="631" width="3" height="23.0" fill="#225437"/>
<rect x="245.70" y="631.70" width="1.6" height="21.6" fill="#6ba583"/>
<rect x="250.00" y="621" width="1" height="14.0" fill="#6e6e70"/>
<rect x="249.00" y="624" width="3" height="8.0" fill="#225437"/>
<rect x="249.70" y="624.70" width="1.6" height="6.6" fill="#6ba583"/>
<rect x="254.00" y="600" width="1" height="28.0" fill="#6e6e70"/>
<rect x="253.00" y="607" width="3" height="19.0" fill="#225437"/>
<rect x="253.70" y="607.70" width="1.6" height="17.6" fill="#6ba583"/>
<rect x="257.00" y="607" width="1" height="12.0" fill="#6e6e70"/>
<rect x="256.00" y="607" width="3" height="1.2" fill="#5b1a13"/>
<rect x="261.00" y="594" width="1" height="26.0" fill="#6e6e70"/>
<rect x="260.00" y="606" width="3" height="3.0" fill="#225437"/>
<rect x="260.70" y="606.70" width="1.6" height="1.6" fill="#6ba583"/>
<rect x="265.00" y="598" width="1" height="15.0" fill="#6e6e70"/>
<rect x="264.00" y="604" width="3" height="2.0" fill="#225437"/>
<rect x="264.70" y="604.70" width="1.6" height="0.6" fill="#6ba583"/>
<rect x="268.00" y="585" width="1" height="20.0" fill="#6e6e70"/>
<rect x="267.00" y="589" width="3" height="16.0" fill="#225437"/>
<rect x="267.70" y="589.70" width="1.6" height="14.6" fill="#6ba583"/>
<rect x="272.00" y="582" width="1" height="10.0" fill="#6e6e70"/>
<rect x="271.00" y="584" width="3" height="5.0" fill="#225437"/>
<rect x="271.70" y="584.70" width="1.6" height="3.6" fill="#6ba583"/>
<rect x="276.00" y="581" width="1" height="21.0" fill="#6e6e70"/>
<rect x="275.00" y="584" width="3" height="12.0" fill="#5b1a13"/>
<rect x="275.70" y="584.70" width="1.6" height="10.6" fill="#d75442"/>
<rect x="279.00" y="588" width="1" height="20.0" fill="#6e6e70"/>
<rect x="278.00" y="595" width="3" height="10.0" fill="#5b1a13"/>
<rect x="278.70" y="595.70" width="1.6" height="8.6" fill="#d75442"/>
<rect x="283.00" y="581" width="1" height="28.0" fill="#6e6e70"/>
<rect x="282.00" y="583" width="3" height="22.0" fill="#225437"/>
<rect x="282.70" y="583.70" width="1.6" height="20.6" fill="#6ba583"/>
<rect x="287.00" y="578" width="1" height="20.0" fill="#6e6e70"/>
<rect x="286.00" y="583" width="3" height="15.0" fill="#5b1a13"/>
<rect x="286.70" y="583.70" width="1.6" height="13.6" fill="#d75442"/>
<rect x="291.00" y="589" width="1" height="12.0" fill="#6e6e70"/>
<rect x="290.00" y="597" width="3" height="4.0" fill="#5b1a13"/>
<rect x="290.70" y="597.70" width="1.6" height="2.6" fill="#d75442"/>
<rect x="294.00" y="599" width="1" height="20.0" fill="#6e6e70"/>
<rect x="293.00" y="601" width="3" height="1.2" fill="#5b1a13"/>
<rect x="298.00" y="601" width="1" height="14.0" fill="#6e6e70"/>
<rect x="297.00" y="602" width="3" height="12.0" fill="#5b1a13"/>
<rect x="297.70" y="602.70" width="1.6" height="10.6" fill="#d75442"/>
<rect x="302.00" y="609" width="1" height="21.0" fill="#6e6e70"/>
<rect x="301.00" y="614" width="3" height="16.0" fill="#5b1a13"/>
<rect x="301.70" y="614.70" width="1.6" height="14.6" fill="#d75442"/>
<rect x="305.00" y="616" width="1" height="23.0" fill="#6e6e70"/>
<rect x="304.00" y="630" width="3" height="8.0" fill="#5b1a13"/>
<rect x="304.70" y="630.70" width="1.6" height="6.6" fill="#d75442"/>
<rect x="309.00" y="638" width="1" height="28.0" fill="#6e6e70"/>
<rect x="308.00" y="640" width="3" height="25.0" fill="#5b1a13"/>
<rect x="308.70" y="640.70" width="1.6" height="23.6" fill="#d75442"/>
<rect x="313.00" y="653" width="1" height="26.0" fill="#6e6e70"/>
<rect x="312.00" y="664" width="3" height="12.0" fill="#5b1a13"/>
<rect x="312.70" y="664.70" width="1.6" height="10.6" fill="#d75442"/>
<rect x="316.00" y="648" width="1" height="28.0" fill="#6e6e70"/>
<rect x="315.00" y="656" width="3" height="20.0" fill="#225437"/>
<rect x="315.70" y="656.70" width="1.6" height="18.6" fill="#6ba583"/>
<rect x="320.00" y="626" width="1" height="44.0" fill="#6e6e70"/>
<rect x="319.00" y="636" width="3" height="20.0" fill="#225437"/>
<rect x="319.70" y="636.70" width="1.6" height="18.6" fill="#6ba583"/>
<rect x="324.00" y="633" width="1" height="27.0" fill="#6e6e70"/>
<rect x="323.00" y="636" width="3" height="12.0" fill="#5b1a13"/>
<rect x="323.70" y="636.70" width="1.6" height="10.6" fill="#d75442"/>
<rect x="328.00" y="635" width="1" height="18.0" fill="#6e6e70"/>
<rect x="327.00" y="643" width="3" height="10.0" fill="#225437"/>
<rect x="327.70" y="643.70" width="1.6" height="8.6" fill="#6ba583"/>
<rect x="331.00" y="635" width="1" height="12.0" fill="#6e6e70"/>
<rect x="330.00" y="643" width="3" height="1.2" fill="#225437"/>
<rect x="335.00" y="642" width="1" height="25.0" fill="#6e6e70"/>
<rect x="334.00" y="643" width="3" height="12.0" fill="#5b1a13"/>
<rect x="334.70" y="643.70" width="1.6" height="10.6" fill="#d75442"/>
<rect x="339.00" y="649" width="1" height="17.0" fill="#6e6e70"/>
<rect x="338.00" y="655" width="3" height="4.0" fill="#5b1a13"/>
<rect x="338.70" y="655.70" width="1.6" height="2.6" fill="#d75442"/>
<rect x="342.00" y="644" width="1" height="16.0" fill="#6e6e70"/>
<rect x="341.00" y="648" width="3" height="11.0" fill="#225437"/>
<rect x="341.70" y="648.70" width="1.6" height="9.6" fill="#6ba583"/>
<rect x="346.00" y="645" width="1" height="12.0" fill="#6e6e70"/>
<rect x="345.00" y="648" width="3" height="5.0" fill="#5b1a13"/>
<rect x="345.70" y="648.70" width="1.6" height="3.6" fill="#d75442"/>
<rect x="350.00" y="648" width="1" height="20.0" fill="#6e6e70"/>
<rect x="349.00" y="652" width="3" height="16.0" fill="#5b1a13"/>
<rect x="349.70" y="652.70" width="1.6" height="14.6" fill="#d75442"/>
<rect x="354.00" y="662" width="1" height="14.0" fill="#6e6e70"/>
<rect x="353.00" y="668" width="3" height="7.0" fill="#5b1a13"/>
<rect x="353.70" y="668.70" width="1.6" height="5.6" fill="#d75442"/>
<rect x="357.00" y="664" width="1" height="15.0" fill="#6e6e70"/>
<rect x="356.00" y="668" width="3" height="7.0" fill="#225437"/>
<rect x="356.70" y="668.70" width="1.6" height="5.6" fill="#6ba583"/>
<rect x="361.00" y="666" width="1" height="26.0" fill="#6e6e70"/>
<rect x="360.00" y="668" width="3" height="10.0" fill="#5b1a13"/>
<rect x="360.70" y="668.70" width="1.6" height="8.6" fill="#d75442"/>
<rect x="365.00" y="664" width="1" height="16.0" fill="#6e6e70"/>
<rect x="364.00" y="677" width="3" height="1.2" fill="#225437"/>
<rect x="368.00" y="671" width="1" height="28.0" fill="#6e6e70"/>
<rect x="367.00" y="677" width="3" height="11.0" fill="#5b1a13"/>
<rect x="367.70" y="677.70" width="1.6" height="9.6" fill="#d75442"/>
<rect x="372.00" y="681" width="1" height="16.0" fill="#6e6e70"/>
<rect x="371.00" y="687" width="3" height="7.0" fill="#5b1a13"/>
<rect x="371.70" y="687.70" width="1.6" height="5.6" fill="#d75442"/>
<rect x="376.00" y="680" width="1" height="15.0" fill="#6e6e70"/>
<rect x="375.00" y="685" width="3" height="9.0" fill="#225437"/>
<rect x="375.70" y="685.70" width="1.6" height="7.6" fill="#6ba583"/>
<rect x="379.00" y="677" width="1" height="20.0" fill="#6e6e70"/>
<rect x="378.00" y="681" width="3" height="4.0" fill="#225437"/>
<rect x="378.70" y="681.70" width="1.6" height="2.6" fill="#6ba583"/>
<rect x="383.00" y="680" width="1" height="26.0" fill="#6e6e70"/>
<rect x="382.00" y="681" width="3" height="22.0" fill="#5b1a13"/>
<rect x="382.70" y="681.70" width="1.6" height="20.6" fill="#d75442"/>
<rect x="387.00" y="693" width="1" height="12.0" fill="#6e6e70"/>
<rect x="386.00" y="698" width="3" height="5.0" fill="#225437"/>
<rect x="386.70" y="698.70" width="1.6" height="3.6" fill="#6ba583"/>
<rect x="391.00" y="686" width="1" height="24.0" fill="#6e6e70"/>
<rect x="390.00" y="697" width="3" height="1.2" fill="#225437"/>
<rect x="394.00" y="696" width="1" height="20.0" fill="#6e6e70"/>
<rect x="393.00" y="697" width="3" height="1.2" fill="#5b1a13"/>
<rect x="398.00" y="685" width="1" height="17.0" fill="#6e6e70"/>
<rect x="397.00" y="690" width="3" height="8.0" fill="#225437"/>
<rect x="397.70" y="690.70" width="1.6" height="6.6" fill="#6ba583"/>
<rect x="402.00" y="678" width="1" height="14.0" fill="#6e6e70"/>
<rect x="401.00" y="691" width="3" height="1.2" fill="#225437"/>
<rect x="405.00" y="668" width="1" height="26.0" fill="#6e6e70"/>
<rect x="404.00" y="673" width="3" height="19.0" fill="#225437"/>
<rect x="404.70" y="673.70" width="1.6" height="17.6" fill="#6ba583"/>
<rect x="409.00" y="659" width="1" height="15.0" fill="#6e6e70"/>
<rect x="408.00" y="671" width="3" height="3.0" fill="#225437"/>
<rect x="408.70" y="671.70" width="1.6" height="1.6" fill="#6ba583"/>
<rect x="413.00" y="664" width="1" height="18.0" fill="#6e6e70"/>
<rect x="412.00" y="665" width="3" height="7.0" fill="#225437"/>
<rect x="412.70" y="665.70" width="1.6" height="5.6" fill="#6ba583"/>
<rect x="416.00" y="651" width="1" height="24.0" fill="#6e6e70"/>
<rect x="415.00" y="665" width="3" height="2.0" fill="#5b1a13"/>
<rect x="415.70" y="665.70" width="1.6" height="0.6" fill="#d75442"/>
<rect x="420.00" y="657" width="1" height="18.0" fill="#6e6e70"/>
<rect x="419.00" y="663" width="3" height="3.0" fill="#225437"/>
<rect x="419.70" y="663.70" width="1.6" height="1.6" fill="#6ba583"/>
<rect x="424.00" y="657" width="1" height="15.0" fill="#6e6e70"/>
<rect x="423.00" y="663" width="3" height="9.0" fill="#5b1a13"/>
<rect x="423.70" y="663.70" width="1.6" height="7.6" fill="#d75442"/>
<rect x="428.00" y="658" width="1" height="23.0" fill="#6e6e70"/>
<rect x="427.00" y="662" width="3" height="10.0" fill="#225437"/>
<rect x="427.70" y="662.70" width="1.6" height="8.6" fill="#6ba583"/>
<rect x="431.00" y="652" width="1" height="13.0" fill="#6e6e70"/>
<rect x="430.00" y="656" width="3" height="6.0" fill="#225437"/>
<rect x="430.70" y="656.70" width="1.6" height="4.6" fill="#6ba583"/>
<rect x="435.00" y="644" width="1" height="30.0" fill="#6e6e70"/>
<rect x="434.00" y="654" width="3" height="3.0" fill="#225437"/>
<rect x="434.70" y="654.70" width="1.6" height="1.6" fill="#6ba583"/>
<rect x="439.00" y="638" width="1" height="20.0" fill="#6e6e70"/>
<rect x="438.00" y="644" width="3" height="10.0" fill="#225437"/>
<rect x="438.70" y="644.70" width="1.6" height="8.6" fill="#6ba583"/>
<rect x="442.00" y="640" width="1" height="26.0" fill="#6e6e70"/>
<rect x="441.00" y="644" width="3" height="22.0" fill="#5b1a13"/>
<rect x="441.70" y="644.70" width="1.6" height="20.6" fill="#d75442"/>
<rect x="446.00" y="657" width="1" height="18.0" fill="#6e6e70"/>
<rect x="445.00" y="660" width="3" height="6.0" fill="#225437"/>
<rect x="445.70" y="660.70" width="1.6" height="4.6" fill="#6ba583"/>
<rect x="450.00" y="650" width="1" height="10.0" fill="#6e6e70"/>
<rect x="449.00" y="652" width="3" height="8.0" fill="#225437"/>
<rect x="449.70" y="652.70" width="1.6" height="6.6" fill="#6ba583"/>
</g>
<g class="k3" font-size="12" fill="#131722" stroke="#131722">
<text x="538.6" y="77.7" textLength="48" lengthAdjust="spacingAndGlyphs" opacity="0.6">2.04000</text>
<text x="538.6" y="116.3" textLength="48" lengthAdjust="spacingAndGlyphs">2.02000</text>
<text x="538.6" y="153.5" textLength="48" lengthAdjust="spacingAndGlyphs">2.00000</text>
<text x="538.6" y="190.9" textLength="48" lengthAdjust="spacingAndGlyphs">1.98000</text>
<text x="538.6" y="228.6" textLength="48" lengthAdjust="spacingAndGlyphs">1.96000</text>
<text x="538.6" y="265.5" textLength="48" lengthAdjust="spacingAndGlyphs">1.94000</text>
<text x="538.6" y="303.7" textLength="48" lengthAdjust="spacingAndGlyphs">1.92000</text>
<text x="538.6" y="341.6" textLength="48" lengthAdjust="spacingAndGlyphs">1.90000</text>
<text x="538.6" y="378.7" textLength="48" lengthAdjust="spacingAndGlyphs">1.88000</text>
<text x="538.6" y="417.4" textLength="48" lengthAdjust="spacingAndGlyphs">1.86000</text>
<text x="538.6" y="469.3" textLength="48" lengthAdjust="spacingAndGlyphs">0.70000</text>
<text x="538.6" y="522.0" textLength="48" lengthAdjust="spacingAndGlyphs">0.68000</text>
<text x="538.6" y="575.6" textLength="48" lengthAdjust="spacingAndGlyphs">0.66000</text>
<text x="538.6" y="628.4" textLength="48" lengthAdjust="spacingAndGlyphs">0.64000</text>
<text x="538.6" y="682.9" textLength="48" lengthAdjust="spacingAndGlyphs">0.62000</text>
<text x="538.6" y="736.3" textLength="48" lengthAdjust="spacingAndGlyphs">0.60000</text>
<text x="538.6" y="62" font-size="12" textLength="24.5" lengthAdjust="spacingAndGlyphs">NZD</text>
<text x="538.6" y="442" font-size="12" textLength="24.5" lengthAdjust="spacingAndGlyphs">USD</text>
</g>
<g class="k2" font-size="12" fill="#131722" stroke="#131722">
<text x="18.3" y="63.8" textLength="35.6" lengthAdjust="spacingAndGlyphs">British</text>
<text x="58.0" y="63.8" textLength="34.4" lengthAdjust="spacingAndGlyphs">Pound</text>
<text x="97.8" y="63.8" textLength="3.3" lengthAdjust="spacingAndGlyphs">/</text>
<text x="104.3" y="63.8" textLength="24.2" lengthAdjust="spacingAndGlyphs">New</text>
<text x="133.5" y="63.8" textLength="42.6" lengthAdjust="spacingAndGlyphs">Zealand</text>
<text x="181.6" y="63.8" textLength="33.4" lengthAdjust="spacingAndGlyphs">Dollar,</text>
<text x="219.3" y="63.8" textLength="16.8" lengthAdjust="spacingAndGlyphs">1D,</text>
<text x="240.7" y="63.8" textLength="33.1" lengthAdjust="spacingAndGlyphs">FXCM</text>
<text x="281" y="63.8">O</text>
<text x="290.7" y="63.8" fill="#ef5350" stroke="#ef5350" textLength="46.3" lengthAdjust="spacingAndGlyphs">1.93438</text>
<text x="344.1" y="63.8">H</text>
<text x="353.2" y="63.8" fill="#ef5350" stroke="#ef5350" textLength="43.2" lengthAdjust="spacingAndGlyphs">1.93719</text>
<text x="403.7" y="63.8">L</text>
<text x="410.3" y="63.8" fill="#ef5350" stroke="#ef5350" textLength="43" lengthAdjust="spacingAndGlyphs">1.92871</text>
<text x="460.6" y="63.8">C</text>
<text x="468.6" y="63.8" fill="#ef5350" stroke="#ef5350" textLength="45.6" lengthAdjust="spacingAndGlyphs">1.93086</text>
<text x="514.7" y="63.8" font-size="13" textLength="10.6" lengthAdjust="spacingAndGlyphs">...</text>
<text x="18.8" y="443.9" textLength="89" lengthAdjust="spacingAndGlyphs">NZDUSD, FXCM</text>
<text x="115.9" y="443.9" fill="#2b5b3c" stroke="#2b5b3c" textLength="46.3" lengthAdjust="spacingAndGlyphs">0.62703</text>
<text x="169.7" y="443.9" fill="#2b5b3c" stroke="#2b5b3c" textLength="46.3" lengthAdjust="spacingAndGlyphs">0.63067</text>
<text x="223.9" y="443.9" fill="#2b5b3c" stroke="#2b5b3c" textLength="45.2" lengthAdjust="spacingAndGlyphs">0.62641</text>
<text x="277" y="443.9" fill="#2b5b3c" stroke="#2b5b3c" textLength="47.5" lengthAdjust="spacingAndGlyphs">0.62994</text>
<text x="331" y="443.9" fill="#2b5b3c" stroke="#2b5b3c" textLength="109.2" lengthAdjust="spacingAndGlyphs">+0.00291 (+0.46%)</text>
</g>
<path d="M467.3 271.4H527.2V287.6H467.3Q465.3 287.6 465.3 285.6V273.4Q465.3 271.4 467.3 271.4Z" fill="#ef5350"/>
<path d="M528.0 271.4H595.1Q597.1 271.4 597.1 273.4V299.3Q597.1 301.3 595.1 301.3H528.0Z" fill="#ef5350"/>
<text x="471.8" y="284.1" font-size="12" fill="#fff" textLength="48.9" lengthAdjust="spacingAndGlyphs">GBPNZD</text>
<text x="539.2" y="284.2" font-size="12" fill="#fff" textLength="47.8" lengthAdjust="spacingAndGlyphs">1.93086</text>
<text x="539.4" y="298.4" font-size="12.4" fill="#fff" fill-opacity="0.78" textLength="50.3" lengthAdjust="spacingAndGlyphs">13:02:07</text>
<path d="M467.3 644.0H527.2V660.8H467.3Q465.3 660.8 465.3 658.8V646.0Q465.3 644.0 467.3 644.0Z" fill="#6ba583"/>
<path d="M528.0 644.0H591.0Q593.0 644.0 593.0 646.0V658.8Q593.0 660.8 591.0 660.8H528.0Z" fill="#6ba583"/>
<text x="470.5" y="657.1" font-size="12" fill="#fff" textLength="50.5" lengthAdjust="spacingAndGlyphs">NZDUSD</text>
<text x="538.9" y="657.1" font-size="12" fill="#fff" textLength="47.8" lengthAdjust="spacingAndGlyphs">0.62994</text>
<clipPath id="c3"><rect x="10" y="742.2" width="518.0" height="27.799999999999955"/></clipPath>
<g class="k2" font-size="12" fill="#131722" stroke="#131722" text-anchor="middle" clip-path="url(#c3)">
<text x="35.1" y="760.6" font-weight="bold" textLength="22" lengthAdjust="spacingAndGlyphs">Mar</text>
<text x="120.3" y="760.6" font-weight="bold" textLength="20.8" lengthAdjust="spacingAndGlyphs">Apr</text>
<text x="279.6" y="760.6" font-weight="bold" textLength="22" lengthAdjust="spacingAndGlyphs">Jun</text>
<text x="361.1" y="760.6" font-weight="bold" textLength="17.8" lengthAdjust="spacingAndGlyphs">Jul</text>
<text x="442.6" y="760.6" textLength="6.9" lengthAdjust="spacingAndGlyphs">2</text>
<text x="524.2" y="760.6" font-weight="bold" textLength="23.5" lengthAdjust="spacingAndGlyphs">Sep</text>
</g>
<g class="k2" fill="#131722">
<path d="M10.1 782.4H18.2V791.2H14.3V786H10.1Z"/>
<circle cx="21.2" cy="784.2" r="1.85"/>
<path d="M24.5 782.4H29.5L26.1 791.2H21.6Z"/>
<text x="33.4" y="792.5" font-size="13" stroke="#131722" textLength="74" lengthAdjust="spacingAndGlyphs">TradingView</text>
</g>
</svg></body></html>
